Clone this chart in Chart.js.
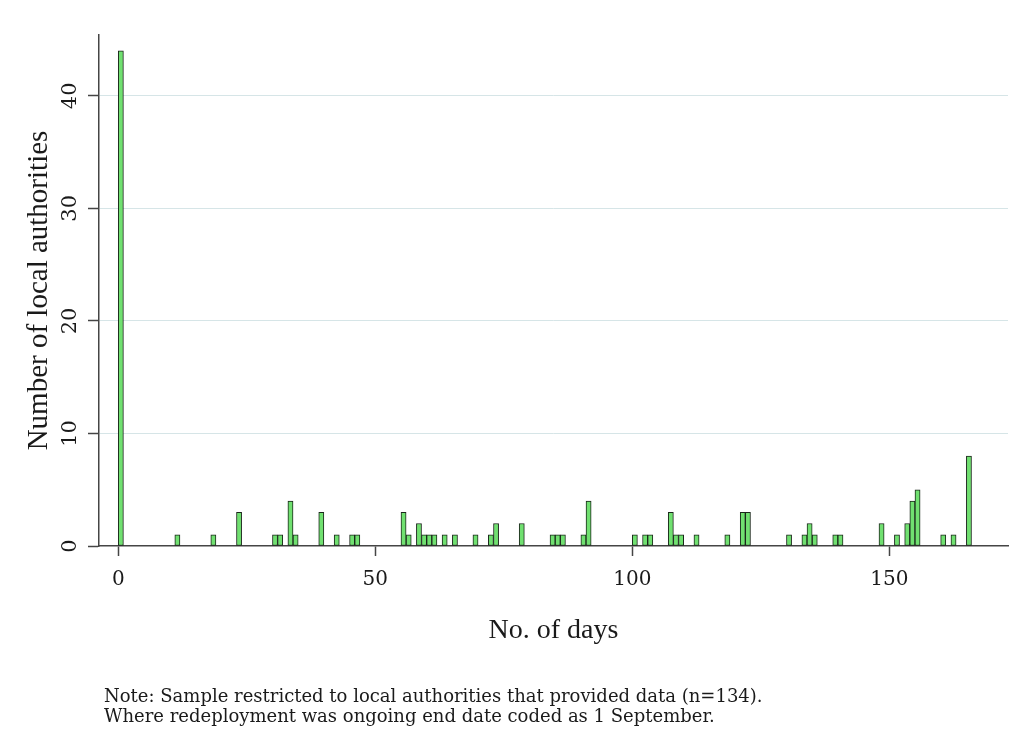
<!DOCTYPE html>
<html>
<head>
<meta charset="utf-8">
<script src="https://cdn.jsdelivr.net/npm/chart.js@4/dist/chart.umd.min.js"></script>
<style>
  html, body { margin: 0; padding: 0; background: #ffffff; }
  #wrap { position: relative; width: 1019px; height: 744px; }
  #c { position: absolute; left: 0; top: 0; }
  #note {
    position: absolute; left: 104px; top: 686px;
    font-family: "DejaVu Serif", serif; font-size: 18px; line-height: 20px;
    color: #1a1a1a; white-space: pre;
  }
</style>
</head>
<body>
<div id="wrap">
  <canvas id="c" width="1019" height="744"></canvas>
  <div id="note">Note: Sample restricted to local authorities that provided data (n=134).
Where redeployment was ongoing end date coded as 1 September.</div>
</div>
<script>
// Histogram of redeployment length: one-day bins, only non-empty bins listed.
const days   = [0, 11, 18, 23, 30, 31, 33, 34, 39, 42, 45, 46, 55, 56, 58, 59, 60, 61,
                63, 65, 69, 72, 73, 78, 84, 85, 86, 90, 91, 100, 102, 103, 107, 108, 109,
                112, 118, 121, 122, 130, 133, 134, 135, 139, 140, 148, 151, 153, 154, 155,
                160, 162, 165];
const counts = [44, 1, 1, 3, 1, 1, 4, 1, 3, 1, 1, 1, 3, 1, 2, 1, 1, 1,
                1, 1, 1, 1, 2, 2, 1, 1, 1, 1, 4, 1, 1, 1, 3, 1, 1,
                1, 1, 3, 3, 1, 1, 2, 1, 1, 1, 2, 1, 2, 4, 5,
                1, 1, 8];
const xTicks = [0, 50, 100, 150];
const yTicks = [0, 10, 20, 30, 40];

const axisColor = '#454545';
const textColor = '#1a1a1a';

// each bin spans [day, day + 1), so the bar sits at the bin centre
const binData = days.map((d, i) => ({ x: d + 0.5, y: counts[i] }));

new Chart(document.getElementById('c'), {
  type: 'bar',
  data: {
    datasets: [{
      data: binData,
      backgroundColor: '#70e070',
      borderColor: '#1a261a',
      borderWidth: 1,
      borderSkipped: false,
      categoryPercentage: 1,
      barPercentage: 1
    }]
  },
  options: {
    responsive: false,
    animation: false,
    devicePixelRatio: 1,
    layout: { padding: { left: 0, top: 35, right: 11, bottom: 0 } },
    plugins: { legend: { display: false }, tooltip: { enabled: false } },
    scales: {
      x: {
        type: 'linear',
        min: -3.75,
        max: 173.1,
        offset: false,
        afterBuildTicks: s => { s.ticks = xTicks.map(v => ({ value: v })); },
        afterFit: s => { s.height = 198; },
        border: { color: axisColor, width: 1.5 },
        grid: {
          offset: false, drawOnChartArea: false, drawTicks: true,
          tickLength: 10, tickColor: axisColor, tickWidth: 1.5
        },
        ticks: {
          font: { family: 'DejaVu Serif', size: 20 }, color: textColor,
          padding: 12, maxRotation: 0, minRotation: 0, autoSkip: false
        },
        title: {
          display: true, text: 'No. of days', color: textColor,
          font: { family: 'Liberation Serif', size: 28 },
          padding: { top: 0, bottom: 97 }
        }
      },
      y: {
        min: 0,
        max: 45.4,
        afterBuildTicks: s => { s.ticks = yTicks.map(v => ({ value: v })); },
        afterFit: s => { s.width = 99; },
        border: { color: axisColor, width: 1.5 },
        grid: {
          color: ctx => (ctx.tick && ctx.tick.value === 0) ? 'rgba(0,0,0,0)' : '#d6e5e7',
          lineWidth: 1, tickColor: axisColor, tickLength: 11, tickWidth: 1.5
        },
        ticks: {
          font: { family: 'DejaVu Serif', size: 21 }, color: textColor,
          minRotation: 90, maxRotation: 90, crossAlign: 'center', padding: 4
        },
        title: {
          display: true, text: 'Number of local authorities', color: textColor,
          font: { family: 'Liberation Serif', size: 29 },
          padding: { top: 22, bottom: 0 }
        }
      }
    }
  }
});
</script>
</body>
</html>
